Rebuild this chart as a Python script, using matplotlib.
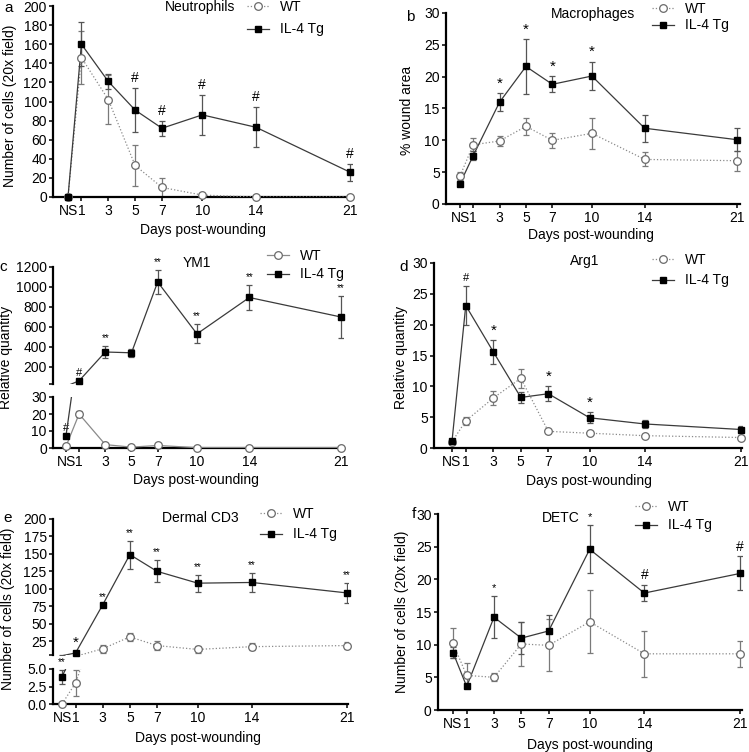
import matplotlib
matplotlib.use('Agg')
import matplotlib.pyplot as plt
from matplotlib.lines import Line2D

plt.rcParams['font.family'] = ['Liberation Sans', 'DejaVu Sans']
plt.rcParams['font.size'] = 10

W, H = 749, 752

days = [0, 1, 3, 5, 7, 10, 14, 21]
day_labels = ['NS', '1', '3', '5', '7', '10', '14', '21']

# a - Neutrophils
neu_wt = [0, 146, 102, 33, 10, 2, 0, 0]
neu_wt_err = [0, 28, 26, 21, 10, 1, 0, 0]
neu_tg = [0, 160, 121, 91, 72, 86, 73, 26]
neu_tg_err = [0, 23, 8, 23, 8, 21, 21, 9]
neu_sig = ['', '', '', '#', '#', '#', '#', '#']

# b - Macrophages
mac_wt = [4.4, 9.3, 9.9, 12.2, 10.0, 11.1, 7.0, 6.8]
mac_wt_err = [0.7, 1.0, 0.8, 1.3, 1.2, 2.4, 1.1, 1.6]
mac_tg = [3.2, 7.6, 16.0, 21.6, 18.8, 20.1, 11.9, 10.1]
mac_tg_err = [0.4, 0.7, 1.4, 4.3, 1.25, 2.25, 2.1, 1.8]
mac_sig = ['', '', '*', '*', '*', '*', '', '']

# c - YM1 (broken axis)
ym1_wt = [1, 20, 2, 0.5, 1.5, 0.2, 0.2, 0.2]
ym1_wt_err = [0, 2, 0.5, 0.3, 0.5, 0, 0, 0]
ym1_tg = [7.2, 62, 350, 342, 1050, 531, 895, 700]
ym1_tg_err = [0, 0, 58, 42, 120, 96, 124, 210]
ym1_sig = ['#', '#', '**', '', '**', '**', '**', '**']

# d - Arg1
arg_wt = [1.0, 4.4, 8.1, 11.3, 2.7, 2.4, 2.0, 1.7]
arg_wt_err = [0.2, 0.6, 1.1, 1.5, 0.3, 0.2, 0.2, 0.2]
arg_tg = [1.1, 23.1, 15.6, 8.2, 8.8, 4.9, 3.9, 3.0]
arg_tg_err = [0.2, 3.2, 1.9, 0.9, 1.2, 0.9, 0.65, 0.6]
arg_sig = ['', '#', '*', '', '*', '*', '', '']

# e - Dermal CD3 (broken axis)
cd3_wt = [0, 3.0, 14, 31, 18.5, 13, 17, 18.5]
cd3_wt_err = [0, 1.8, 5.5, 6, 7, 5.5, 5.5, 5.5]
cd3_tg = [3.9, 8, 77, 149, 125, 108, 109, 94]
cd3_tg_err = [1.0, 0, 0, 20, 16, 12, 14, 14.5]
cd3_sig = ['**', '*', '**', '**', '**', '**', '**', '**']

# f - DETC
detc_wt = [10.2, 5.3, 5.0, 10.1, 9.9, 13.5, 8.6, 8.6]
detc_wt_err = [2.3, 1.9, 0.6, 3.4, 4.0, 4.8, 3.5, 2.0]
detc_tg = [8.8, 3.6, 14.2, 11.0, 12.1, 24.6, 17.9, 20.9]
detc_tg_err = [0.9, 0.3, 3.2, 2.5, 2.5, 3.7, 1.25, 2.6]
detc_sig = ['', '', '*', '', '', '*', '#', '#']

tg_color = '#3a3a3a'
wt_color = '#8a8a8a'
wt_edge = '#6a6a6a'
err_wt = '#7a7a7a'
err_tg = '#555555'

fig = plt.figure(figsize=(W / 100, H / 100), dpi=100)


def px_axes(l, t, r, b):
    return fig.add_axes([l / W, 1 - b / H, (r - l) / W, (b - t) / H])


def fx(x):
    return x / W


def fy(y):
    return 1 - y / H


def style_axes(ax, l, r, x0, x21, show_x=True):
    slope = (x21 - x0) / 21
    ax.set_xlim((l - x0) / slope, (r - x0) / slope)
    for s in ['top', 'right']:
        ax.spines[s].set_visible(False)
    ax.spines['left'].set_linewidth(1.6)
    ax.spines['bottom'].set_linewidth(1.6)
    ax.tick_params(direction='out', length=3, width=1.1, labelsize=10, pad=1.5)
    ax.tick_params(axis='x', pad=2)
    if show_x:
        ax.set_xticks(days)
        ax.set_xticklabels(day_labels)
    else:
        ax.spines['bottom'].set_visible(False)
        ax.set_xticks([])
    ax.patch.set_alpha(0)


def draw_series(ax, wt, wt_err, tg, tg_err, wt_ls=':'):
    lo, hi = ax.get_ylim()
    for vals, errs, ec in ((wt, wt_err, err_wt), (tg, tg_err, err_tg)):
        keep = [(d, v, e) for d, v, e in zip(days, vals, errs) if e > 0]
        if keep:
            ax.errorbar([k[0] for k in keep], [k[1] for k in keep],
                        yerr=[k[2] for k in keep], fmt='none', ecolor=ec,
                        elinewidth=0.9, capsize=2.5, capthick=0.9, zorder=2)
    ax.plot(days, wt, color=wt_color, ls=wt_ls, lw=0.9, zorder=3)
    ax.plot(days, tg, color=tg_color, ls='-', lw=0.9, zorder=4)
    # markers only where the value falls inside this axis segment
    wi = [(d, v) for d, v in zip(days, wt) if lo <= v <= hi]
    ti = [(d, v) for d, v in zip(days, tg) if lo <= v <= hi]
    ax.plot([p[0] for p in wi], [p[1] for p in wi], ls='none', marker='o',
            ms=5.5, mfc='white', mec=wt_edge, mew=0.9, zorder=5, clip_on=False)
    ax.plot([p[0] for p in ti], [p[1] for p in ti], ls='none', marker='s',
            ms=5, mfc='black', mec='black', zorder=6, clip_on=False)


def draw_sig(axes_list, tg, tg_err, sig, sizes):
    for d, v, e, s in zip(days, tg, tg_err, sig):
        if not s:
            continue
        top = v + e
        ax = axes_list[0]
        for a in axes_list:
            lo, hi = a.get_ylim()
            if lo <= top <= hi:
                ax = a
        ax.annotate(s, (d, top), xytext=(0, 2), textcoords='offset points',
                    ha='center', va='bottom', fontsize=sizes[s],
                    annotation_clip=False)


def add_legend(ax, x, y, spacing, wt_ls=':'):
    h = [Line2D([], [], color=wt_color, ls=wt_ls, lw=0.9, marker='o', ms=5.5,
                mfc='white', mec=wt_edge, mew=0.9),
         Line2D([], [], color=tg_color, ls='-', lw=0.9, marker='s', ms=5,
                mfc='black', mec='black')]
    ax.legend(h, ['WT', 'IL-4 Tg'], loc='upper left',
              bbox_to_anchor=(fx(x), fy(y)), bbox_transform=fig.transFigure,
              frameon=False, fontsize=10, handlelength=1.55, handletextpad=0.8,
              labelspacing=(spacing - 15.5) / 13.9, borderpad=0, borderaxespad=0)


def panel_text(letter, lx, ly, title, tx, ty, ylab, ylx, yly, xlx, xly):
    fig.text(fx(lx), fy(ly), letter, fontsize=11, ha='center', va='center')
    fig.text(fx(tx), fy(ty), title, fontsize=10, ha='left', va='center')
    fig.text(fx(ylx), fy(yly), ylab, fontsize=10, rotation=90,
             ha='center', va='center')
    fig.text(fx(xlx), fy(xly), 'Days post-wounding', fontsize=10,
             ha='center', va='center')


big = {'#': 10, '*': 11, '**': 7}

# a
ax = px_axes(53, 6, 352, 197)
style_axes(ax, 53, 352, 68, 350)
ax.set_ylim(0, 200)
ax.set_yticks(range(0, 201, 20))
draw_series(ax, neu_wt, neu_wt_err, neu_tg, neu_tg_err)
draw_sig([ax], neu_tg, neu_tg_err, neu_sig, big)
add_legend(ax, 247, 0, 24)
panel_text('a', 9, 8, 'Neutrophils', 165, 7, 'Number of cells (20x field)', 10, 106, 203, 230)

# b
ax = px_axes(446, 13, 740, 204)
style_axes(ax, 446, 740, 460, 737)
ax.set_ylim(0, 30)
ax.set_yticks(range(0, 31, 5))
draw_series(ax, mac_wt, mac_wt_err, mac_tg, mac_tg_err)
draw_sig([ax], mac_tg, mac_tg_err, mac_sig, big)
add_legend(ax, 652, 2, 18)
panel_text('b', 410, 17, 'Macrophages', 551, 14, '% wound area', 407, 110, 591, 235)

# c
ax_up = px_axes(53, 267, 343, 384)
ax_lo = px_axes(53, 397, 343, 448)
style_axes(ax_up, 53, 343, 66, 341, show_x=False)
style_axes(ax_lo, 53, 343, 66, 341)
ax_up.set_ylim(30, 1200)
ax_up.set_yticks([30] + list(range(200, 1201, 200)))
ax_up.set_yticklabels([''] + [str(v) for v in range(200, 1201, 200)])
ax_lo.set_ylim(0, 30)
ax_lo.set_yticks([0, 10, 20, 30])
for a in (ax_up, ax_lo):
    draw_series(a, ym1_wt, ym1_wt_err, ym1_tg, ym1_tg_err, wt_ls='-')
draw_sig([ax_lo, ax_up], ym1_tg, ym1_tg_err, ym1_sig, {'#': 8, '*': 8, '**': 7})
add_legend(ax_up, 267, 249, 20, wt_ls='-')
panel_text('c', 3, 267, 'YM1', 183, 263, 'Relative quantity', 6, 357, 196, 480)

# d
ax = px_axes(434, 263, 742, 448)
style_axes(ax, 434, 742, 452, 741)
ax.set_ylim(0, 30)
ax.set_yticks(range(0, 31, 5))
draw_series(ax, arg_wt, arg_wt_err, arg_tg, arg_tg_err)
draw_sig([ax], arg_tg, arg_tg_err, arg_sig, {'#': 8, '*': 11, '**': 7})
add_legend(ax, 652, 253, 22)
panel_text('d', 404, 267, 'Arg1', 570, 261, 'Relative quantity', 401, 357, 589, 481)

# e
ax_up = px_axes(53, 519, 348, 655)
ax_lo = px_axes(53, 669, 348, 704)
style_axes(ax_up, 53, 348, 62, 347, show_x=False)
style_axes(ax_lo, 53, 348, 62, 347)
ax_up.set_ylim(5, 200)
ax_up.set_yticks([5] + list(range(25, 201, 25)))
ax_up.set_yticklabels([''] + [str(v) for v in range(25, 201, 25)])
ax_lo.set_ylim(0, 5)
ax_lo.set_yticks([0, 2.5, 5])
ax_lo.set_yticklabels(['0.0', '2.5', '5.0'])
for a in (ax_up, ax_lo):
    draw_series(a, cd3_wt, cd3_wt_err, cd3_tg, cd3_tg_err)
draw_sig([ax_lo, ax_up], cd3_tg, cd3_tg_err, cd3_sig, {'#': 10, '*': 11, '**': 7})
add_legend(ax_up, 260, 507, 22)
panel_text('e', 8, 518, 'Dermal CD3', 162, 518, 'Number of cells (20x field)', 8, 609, 198, 738)

# f
ax = px_axes(438, 514, 742, 710)
style_axes(ax, 438, 742, 453, 740)
ax.set_ylim(0, 30)
ax.set_yticks(range(0, 31, 5))
draw_series(ax, detc_wt, detc_wt_err, detc_tg, detc_tg_err)
draw_sig([ax], detc_tg, detc_tg_err, detc_sig, {'#': 10, '*': 8, '**': 7})
add_legend(ax, 635, 500, 20)
panel_text('f', 414, 514, 'DETC', 542, 518, 'Number of cells (20x field)', 402, 612, 590, 745)

fig.savefig('out.png', dpi=100)
